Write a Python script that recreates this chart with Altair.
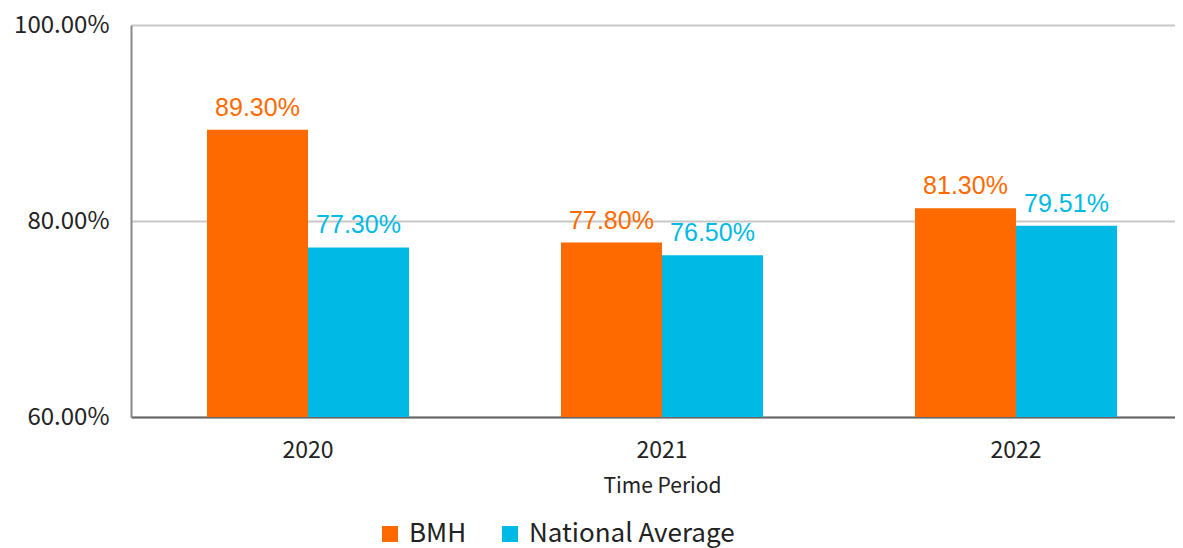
import altair as alt
import pandas as pd

years = ["2020", "2021", "2022"]
series = ["BMH", "National Average"]
bmh = [0.893, 0.778, 0.813]
national = [0.773, 0.765, 0.7951]
colors = ["#FF6A00", "#00B9E4"]
y_ticks = [0.6, 0.8, 1.0]
y_min = 0.6

rows = []
for i, yr in enumerate(years):
    rows.append({"year": yr, "series": series[0], "value": bmh[i]})
    rows.append({"year": yr, "series": series[1], "value": national[i]})
df = pd.DataFrame(rows)

axis_font = "Noto Sans CJK JP"

x = alt.X("year:N", title="Time Period",
          scale=alt.Scale(range=[0, 1062], paddingInner=0.4294, paddingOuter=0.2147),
          axis=alt.Axis(labelAngle=0, labelFont=axis_font, labelFontSize=23,
                        labelColor="#222222", labelPadding=22, ticks=False,
                        domainColor="#666666", domainWidth=2,
                        titleFont=axis_font, titleFontSize=21,
                        titleFontWeight="normal", titleColor="#222222",
                        titlePadding=13, titleX=531))
xo = alt.XOffset("series:N", scale=alt.Scale(domain=series, paddingInner=0, paddingOuter=0))
y = alt.Y("value:Q", title=None,
          scale=alt.Scale(domain=[0.6, 1.0], nice=False, zero=False),
          axis=alt.Axis(values=y_ticks, format=".2%", labelFont=axis_font,
                        labelFontSize=24, labelColor="#222222", ticks=False,
                        labelPadding=22, domainColor="#888888", domainWidth=2,
                        gridColor="#c8c8c8", gridWidth=2))
color = alt.Color("series:N",
                  scale=alt.Scale(domain=series, range=colors),
                  legend=alt.Legend(title=None, orient="none", direction="horizontal",
                                    legendX=246, legendY=496,
                                    symbolType="square", symbolSize=256,
                                    symbolStrokeWidth=0, symbolOpacity=1,
                                    labelFont=axis_font, labelFontSize=26,
                                    labelColor="#222222", labelOffset=6,
                                    labelLimit=0, columnPadding=30))

base = alt.Chart(df)
bars = base.mark_bar(opacity=1).encode(x=x, xOffset=xo, y=y, y2=alt.datum(y_min), color=color)
text = base.mark_text(baseline="bottom", dy=-9, font="Liberation Sans",
                      fontSize=25).encode(
    x=x, xOffset=xo, y=y,
    text=alt.Text("value:Q", format=".2%"),
    color=alt.Color("series:N", scale=alt.Scale(domain=series, range=colors), legend=None))

chart = (bars + text).properties(
    width=1044, height=392,
    autosize=alt.AutoSizeParams(type="none"),
    padding={"left": 123, "top": 17, "right": 0, "bottom": 131},
).configure_view(stroke=None)

chart.save("out.html", embed_options={"renderer": "svg", "actions": False})
